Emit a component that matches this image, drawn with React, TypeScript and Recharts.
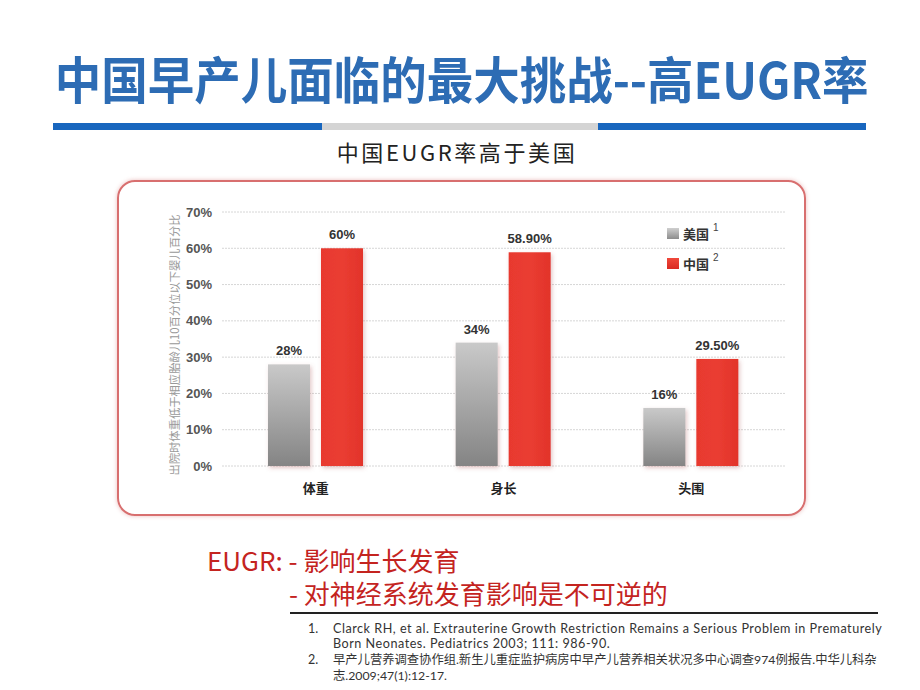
import React from 'react';
import { BarChart, Bar, XAxis, YAxis, CartesianGrid, LabelList, Legend } from 'recharts';

const categories = ['体重', '身长', '头围'];
const usValues = [28, 34, 16];
const cnValues = [60, 58.9, 29.5];
const usLabels = ['28%', '34%', '16%'];
const cnLabels = ['60%', '58.90%', '29.50%'];
const yTicks = [0, 10, 20, 30, 40, 50, 60, 70];
const seriesNames = ['美国', '中国'];
const seriesNotes = ['1', '2'];
const yAxisTitle = '出院时体重低于相应胎龄儿10百分位以下婴儿百分比';

const titleText = '中国早产儿面临的最大挑战--高EUGR率';
const subtitleText = '中国EUGR率高于美国';
const noteLine1 = 'EUGR: - 影响生长发育';
const noteLine2 = '- 对神经系统发育影响是不可逆的';
const refLines = [
  { num: '1.', cjk: false, lines: ['Clarck RH, et al. Extrauterine Growth Restriction Remains a Serious Problem in Prematurely', 'Born Neonates. Pediatrics 2003; 111: 986-90.'] },
  { num: '2.', cjk: true, lines: ['早产儿营养调查协作组.新生儿重症监护病房中早产儿营养相关状况多中心调查974例报告.中华儿科杂', '志.2009;47(1):12-17.'] },
];

const data = categories.map((name, i) => ({
  name,
  us: usValues[i],
  cn: cnValues[i],
  usLabel: usLabels[i],
  cnLabel: cnLabels[i],
}));

const CJK = '"Noto Sans CJK SC", "Noto Sans", sans-serif';
const NUM = '"Liberation Sans", Arial, sans-serif';
const REF = 'Lato, "Noto Sans CJK SC", sans-serif';

const renderLegend = (props: any) => {
  const payload = props.payload || [];
  return (
    <div style={{ fontFamily: CJK }}>
      {payload.map((entry: any, i: number) => {
        const isUs = entry.dataKey === 'us';
        return (
          <div key={i} style={{ display: 'flex', alignItems: 'center', height: 30 }}>
            <span
              style={{
                display: 'inline-block',
                width: 12,
                height: 11,
                marginRight: 4,
                background: isUs ? 'linear-gradient(#cfcfcf, #8c8c8c)' : 'linear-gradient(#f0483b, #d92a22)',
              }}
            />
            <span style={{ fontSize: 13, fontWeight: 700, color: '#333', lineHeight: '13px' }}>{entry.value}</span>
            <span style={{ fontSize: 10, color: '#444', marginLeft: 4, position: 'relative', top: -6, fontFamily: NUM }}>
              {seriesNotes[isUs ? 0 : 1]}
            </span>
          </div>
        );
      })}
    </div>
  );
};

const renderYTitle = (props: any) => {
  const vb = props.viewBox || { x: 162, y: 212, width: 60, height: 254 };
  const cx = vb.x + 12;
  const cy = vb.y + vb.height / 2 + 6;
  return (
    <text
      x={cx}
      y={cy}
      transform={`rotate(-90 ${cx} ${cy})`}
      textAnchor="middle"
      dominantBaseline="central"
      fontSize={11.3}
      fill="#999"
      fontFamily={CJK}
    >
      {yAxisTitle}
    </text>
  );
};

const barShape = (p: any) => (
  <rect x={p.x} y={p.y} width={p.width} height={p.height} fill={p.fill} filter="url(#barShadow)" />
);

export default function App() {
  return (
    <div
      style={{
        position: 'absolute',
        left: 0,
        top: 0,
        width: 920,
        height: 690,
        background: '#fff',
        overflow: 'hidden',
        fontFamily: CJK,
      }}
    >
      {/* Title */}
      <div
        style={{
          position: 'absolute',
          left: 0,
          top: 52,
          width: 920,
          textAlign: 'center',
          fontSize: 50,
          lineHeight: '50px',
          fontWeight: 700,
          color: '#2d6cb4',
          whiteSpace: 'nowrap',
        }}
      >
        <span style={{ display: 'inline-block', transform: 'scaleX(0.93)', marginLeft: 3 }}>{titleText}</span>
      </div>
      {/* Title bars */}
      <div style={{ position: 'absolute', left: 53, top: 123, width: 269, height: 7, background: '#1866be' }} />
      <div style={{ position: 'absolute', left: 322, top: 123, width: 276, height: 7, background: '#d4d4d4' }} />
      <div style={{ position: 'absolute', left: 598, top: 123, width: 268, height: 7, background: '#1866be' }} />
      {/* Subtitle */}
      <div
        style={{
          position: 'absolute',
          left: 0,
          top: 140,
          width: 914,
          textAlign: 'center',
          fontSize: 22,
          lineHeight: '22px',
          color: '#222',
          letterSpacing: 2.6,
          whiteSpace: 'nowrap',
        }}
      >
        {subtitleText}
      </div>
      {/* Box */}
      <div
        style={{
          position: 'absolute',
          left: 117,
          top: 180,
          width: 685,
          height: 332,
          border: '2px solid #d86f6f',
          borderRadius: 18,
          boxShadow: '0 0 4px rgba(210,110,110,0.45)',
        }}
      />
      {/* Chart */}
      <div style={{ position: 'absolute', left: 0, top: 0 }}>
        <BarChart
          width={920}
          height={690}
          data={data}
          margin={{ top: 212, right: 135, bottom: 194, left: 162 }}
          barSize={42}
          barGap={11}
        >
          <defs>
            <linearGradient id="grayGrad" x1="0" y1="0" x2="0" y2="1">
              <stop offset="0%" stopColor="#c9c9c9" />
              <stop offset="100%" stopColor="#848484" />
            </linearGradient>
            <linearGradient id="redGrad" x1="0" y1="0" x2="1" y2="0">
              <stop offset="0%" stopColor="#e8392f" />
              <stop offset="50%" stopColor="#ea3d31" />
              <stop offset="100%" stopColor="#e2332b" />
            </linearGradient>
            <filter id="barShadow" x="-30%" y="-10%" width="160%" height="125%">
              <feDropShadow dx="1.5" dy="2" stdDeviation="2" floodColor="#b06060" floodOpacity="0.35" />
            </filter>
          </defs>
          <CartesianGrid vertical={false} stroke="#d6d6d6" strokeDasharray="2 1" />
          <XAxis
            dataKey="name"
            axisLine={false}
            tickLine={false}
            tickMargin={12}
            height={30}
            tick={{ fontSize: 13, fontWeight: 700, fill: '#222', fontFamily: CJK }}
          />
          <YAxis
            width={60}
            domain={[0, 70]}
            ticks={yTicks}
            interval={0}
            axisLine={false}
            tickLine={false}
            tickMargin={4}
            tickFormatter={(v: number) => `${v}%`}
            tick={{ fontSize: 13, fontWeight: 700, fill: '#555', fontFamily: NUM }}
            label={{ content: renderYTitle }}
          />
          <Legend
            layout="vertical"
            align="center"
            verticalAlign="middle"
            itemSorter={null as any}
            content={renderLegend}
            wrapperStyle={{ left: 667, top: 218, width: 120 }}
          />
          <Bar dataKey="us" name={seriesNames[0]} fill="url(#grayGrad)" shape={barShape} isAnimationActive={false}>
            <LabelList
              dataKey="usLabel"
              position="top"
              offset={9}
              style={{ fontSize: 13, fontWeight: 700, fill: '#333', fontFamily: NUM }}
            />
          </Bar>
          <Bar dataKey="cn" name={seriesNames[1]} fill="url(#redGrad)" shape={barShape} isAnimationActive={false}>
            <LabelList
              dataKey="cnLabel"
              position="top"
              offset={9}
              style={{ fontSize: 13, fontWeight: 700, fill: '#333', fontFamily: NUM }}
            />
          </Bar>
        </BarChart>
      </div>
      {/* Red notes */}
      <div
        style={{
          position: 'absolute',
          left: 207,
          top: 547,
          fontSize: 26,
          lineHeight: '26px',
          color: '#c4241f',
          whiteSpace: 'pre',
        }}
      >
        {noteLine1}
      </div>
      <div
        style={{
          position: 'absolute',
          left: 289,
          top: 580,
          fontSize: 26,
          lineHeight: '26px',
          color: '#c4241f',
          whiteSpace: 'pre',
        }}
      >
        {noteLine2}
      </div>
      {/* Reference rule */}
      <div style={{ position: 'absolute', left: 290, top: 612, width: 588, height: 2, background: '#222' }} />
      {/* References */}
      {refLines.map((r, i) => (
        <div key={i}>
          <div
            style={{
              position: 'absolute',
              left: 308,
              top: 620.5 + i * 31.4,
              fontSize: 12.5,
              lineHeight: '15.7px',
              color: '#333',
              fontFamily: REF,
            }}
          >
            {r.num}
          </div>
          {r.lines.map((ln, j) => (
            <div
              key={j}
              style={{
                position: 'absolute',
                left: 333,
                top: 620.5 + i * 31.4 + j * 15.7,
                fontSize: r.cjk ? 12.3 : 12.6,
                lineHeight: '15.7px',
                letterSpacing: r.cjk ? 0 : 0.52,
                color: '#333',
                whiteSpace: 'nowrap',
                fontFamily: REF,
              }}
            >
              {ln}
            </div>
          ))}
        </div>
      ))}
    </div>
  );
}
